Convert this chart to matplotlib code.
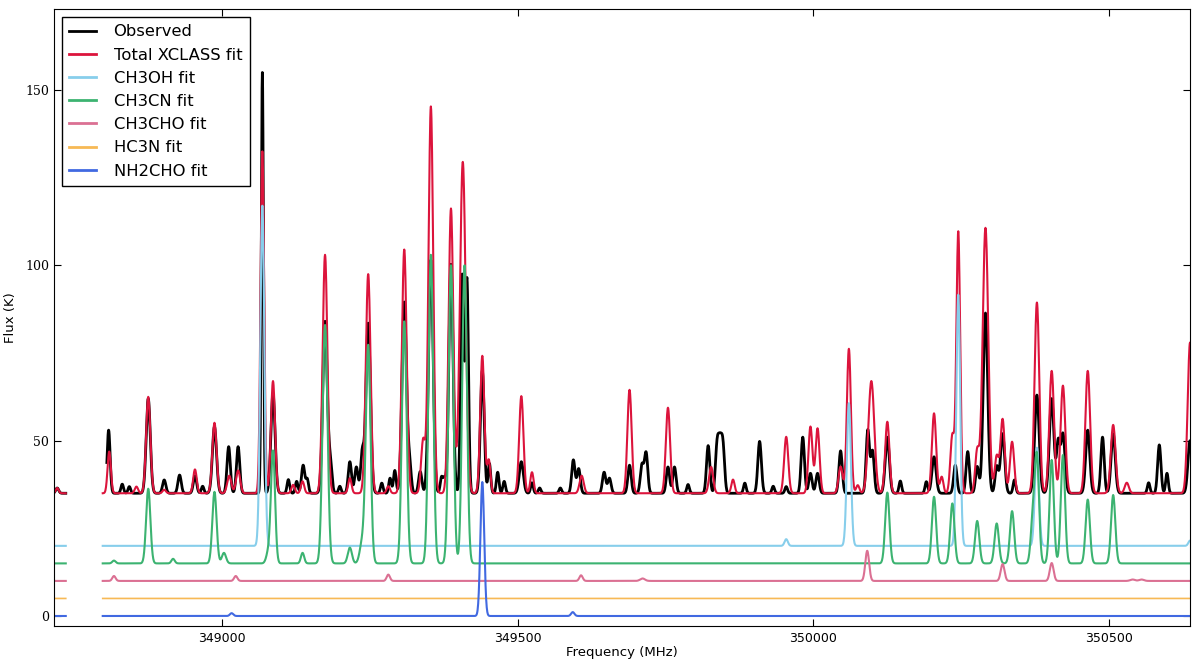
import matplotlib
matplotlib.use('Agg')
import matplotlib.pyplot as plt
import numpy as np

# frequency coverage (MHz): two chunks with a gap between them
seg_1 = (348715, 348736)
seg_2 = (348798, 350641)
fit_start_2 = 348798
obs_start_2 = 348805

# baselines (K) of each trace as offset in the plot
base_obs = 35
base_total = 35
base_ch3oh = 20
base_ch3cn = 15
base_ch3cho = 10
base_hc3n = 5
base_nh2cho = 0

# line lists: centre (MHz), peak above baseline (K), sigma (MHz)
obs_freq = [348721, 348808, 348831, 348843, 348875, 348902, 348928, 348954, 348967, 348987,
            349011, 349027, 349068, 349086, 349112, 349126, 349137, 349144, 349174, 349183,
            349199, 349216, 349227, 349237, 349247, 349270, 349284, 349292, 349308, 349317,
            349335, 349353, 349371, 349376, 349387, 349406, 349414, 349440, 349452, 349466,
            349477, 349506, 349524, 349537, 349572, 349594, 349603, 349646, 349655, 349689,
            349710, 349717, 349754, 349765, 349788, 349822, 349837, 349842, 349847, 349884,
            349909, 349932, 349954, 349982, 349995, 350007, 350046, 350092, 350100, 350125,
            350147, 350191, 350204, 350240, 350261, 350277, 350291, 350310, 350320, 350340,
            350378, 350403, 350414, 350422, 350464, 350489, 350507, 350567, 350585, 350598,
            350637]
obs_peak = [1.5, 18.0, 2.6, 1.9, 27.0, 3.8, 5.2, 5.0, 2.0, 19.0,
            13.3, 13.3, 120.0, 28.5, 3.9, 3.4, 8.0, 3.9, 49.0, 8.0,
            2.0, 9.0, 7.5, 11.5, 48.5, 2.9, 4.3, 6.5, 54.5, 8.0,
            6.2, 66.5, 4.5, 4.0, 65.3, 62.0, 61.0, 35.0, 8.5, 6.0,
            3.4, 9.0, 3.0, 1.5, 1.5, 9.5, 7.0, 6.0, 4.3, 8.0,
            8.0, 11.5, 7.5, 7.5, 2.5, 13.6, 13.0, 12.0, 13.0, 2.9,
            14.8, 2.0, 1.9, 16.0, 5.7, 5.7, 12.1, 18.0, 12.0, 16.0,
            3.5, 3.3, 10.4, 8.0, 11.9, 7.6, 51.4, 7.6, 17.0, 3.8,
            28.0, 27.0, 14.0, 17.0, 18.0, 16.0, 17.0, 3.0, 13.8, 5.7,
            15.0]
obs_sigma = [2.5, 2.5, 2.2, 2.2, 3.5, 2.8, 2.8, 2.8, 2.2, 3.5,
             2.8, 2.8, 1.8, 3.5, 2.2, 2.2, 2.8, 2.2, 3.8, 2.8,
             2.2, 2.8, 2.8, 2.8, 3.8, 2.2, 2.2, 2.2, 3.8, 2.8,
             2.8, 3.8, 2.2, 2.2, 3.5, 2.6, 2.6, 3.2, 2.2, 2.2,
             2.2, 3.5, 2.2, 2.2, 2.2, 2.8, 2.8, 2.8, 2.8, 2.8,
             2.8, 2.8, 2.8, 2.8, 2.2, 2.8, 2.8, 2.8, 2.8, 2.2,
             3.0, 2.2, 2.2, 2.8, 2.8, 2.8, 2.8, 2.8, 2.8, 3.5,
             2.2, 2.2, 3.5, 2.8, 2.8, 2.8, 3.8, 2.8, 3.5, 2.2,
             3.8, 3.8, 2.8, 3.5, 3.5, 2.8, 3.5, 2.2, 2.8, 2.2,
             3.5]

total_freq = [348721, 348809, 348855, 348875, 348902, 348954, 348987, 349012, 349027, 349068,
              349086, 349120, 349136, 349174, 349216, 349247, 349281, 349308, 349340, 349353,
              349387, 349407, 349440, 349451, 349506, 349524, 349608, 349689, 349754, 349827,
              349864, 349954, 349995, 350007, 350046, 350060, 350075, 350098, 350125, 350204,
              350217, 350235, 350245, 350277, 350291, 350310, 350320, 350336, 350378, 350403,
              350422, 350464, 350507, 350530, 350637]
total_peak = [1.5, 11.9, 1.9, 27.5, 1.0, 6.8, 20.1, 5.0, 6.5, 97.5,
              32.0, 2.4, 3.4, 68.0, 4.3, 62.5, 2.0, 69.5, 15.2, 110.3,
              81.2, 94.5, 39.2, 9.4, 27.7, 6.0, 5.0, 29.5, 24.4, 7.5,
              3.9, 16.1, 19.0, 18.5, 7.6, 41.2, 2.3, 32.0, 20.4, 22.8,
              4.7, 16.5, 74.5, 12.0, 75.7, 10.5, 21.1, 14.7, 54.4, 34.9,
              30.7, 34.9, 19.5, 3.0, 43.0]
total_sigma = [2.5, 2.8, 2.8, 3.6, 2.8, 3.0, 3.6, 3.5, 3.5, 3.0,
               3.5, 2.8, 2.8, 4.0, 2.8, 4.0, 2.8, 4.0, 3.5, 4.0,
               4.0, 4.8, 3.5, 2.8, 3.6, 2.8, 3.5, 3.6, 3.6, 3.5,
               2.8, 3.5, 3.4, 3.4, 3.5, 3.4, 2.8, 5.0, 3.6, 3.6,
               2.8, 3.4, 3.2, 3.4, 4.8, 3.4, 3.6, 3.6, 4.0, 4.0,
               4.0, 4.0, 4.0, 3.5, 4.0]

ch3oh_freq = [349068, 349954, 350060, 350245, 350378, 350637]
ch3oh_peak = [97.0, 1.9, 40.7, 71.6, 28.0, 1.5]
ch3oh_sigma = [3.4, 2.8, 3.4, 3.2, 3.4, 2.8]

ch3cn_freq = [348817, 348875, 348917, 348987, 349003, 349078, 349086, 349136, 349174, 349216,
              349237, 349247, 349308, 349353, 349387, 349410, 350125, 350204, 350235, 350277,
              350310, 350336, 350371, 350378, 350403, 350422, 350464, 350507]
ch3cn_peak = [0.8, 21.3, 1.3, 20.4, 3.0, 3.0, 32.0, 3.0, 68.0, 4.5,
              6.0, 62.0, 69.0, 88.0, 85.0, 85.0, 20.2, 19.0, 17.1, 12.1,
              11.4, 14.9, 12.0, 30.0, 29.5, 30.9, 18.2, 19.5]
ch3cn_sigma = [2.8, 3.6, 2.8, 3.6, 3.5, 3.5, 3.5, 2.8, 4.2, 3.5,
               4.2, 4.0, 4.0, 4.0, 4.0, 4.0, 3.6, 3.6, 3.6, 3.6,
               3.6, 3.6, 3.5, 3.6, 3.6, 3.6, 3.6, 3.6]

ch3cho_freq = [348817, 349023, 349281, 349607, 349711, 350091, 350320, 350403, 350540, 350555]
ch3cho_peak = [1.4, 1.4, 1.8, 1.6, 0.7, 8.6, 4.8, 5.1, 0.4, 0.4]
ch3cho_sigma = [2.8, 2.8, 2.8, 2.8, 4.0, 3.2, 3.2, 3.2, 4.0, 4.0]

hc3n_freq = []
hc3n_peak = []
hc3n_sigma = []

nh2cho_freq = [349016, 349440, 349593]
nh2cho_peak = [0.8, 38.2, 1.1]
nh2cho_sigma = [2.8, 3.2, 2.8]


def channels(start_2):
    a = np.arange(seg_1[0], seg_1[1], 0.5)
    b = np.arange(start_2, seg_2[1], 0.5)
    return np.concatenate([a, [np.nan], b])


def spectrum(freq, base, centres, peaks, sigmas):
    y = np.full(freq.shape, float(base))
    for c, p, s in zip(centres, peaks, sigmas):
        y += p * np.exp(-0.5 * ((freq - c) / s) ** 2)
    return y


f_fit = channels(fit_start_2)
f_obs = channels(obs_start_2)

fig = plt.figure(figsize=(12, 6.68), dpi=100)
ax = fig.add_axes([0.045, 0.0629, 0.9467, 0.9236])

ax.plot(f_obs, spectrum(f_obs, base_obs, obs_freq, obs_peak, obs_sigma),
        color='black', lw=2, label='Observed')
ax.plot(f_fit, spectrum(f_fit, base_total, total_freq, total_peak, total_sigma),
        color='crimson', lw=1.5, label='Total XCLASS fit')
ax.plot(f_fit, spectrum(f_fit, base_ch3oh, ch3oh_freq, ch3oh_peak, ch3oh_sigma),
        color='skyblue', lw=1.5, label='CH3OH fit')
ax.plot(f_fit, spectrum(f_fit, base_ch3cn, ch3cn_freq, ch3cn_peak, ch3cn_sigma),
        color='mediumseagreen', lw=1.5, label='CH3CN fit')
ax.plot(f_fit, spectrum(f_fit, base_ch3cho, ch3cho_freq, ch3cho_peak, ch3cho_sigma),
        color='palevioletred', lw=1.5, label='CH3CHO fit')
ax.plot(f_fit, spectrum(f_fit, base_hc3n, hc3n_freq, hc3n_peak, hc3n_sigma),
        color='#f7b955', lw=1.2, label='HC3N fit')
ax.plot(f_fit, spectrum(f_fit, base_nh2cho, nh2cho_freq, nh2cho_peak, nh2cho_sigma),
        color='royalblue', lw=1.5, label='NH2CHO fit')

ax.set_xlim(348715.6, 350637)
ax.set_ylim(-2.85, 173.1)
ax.set_xticks([349000, 349500, 350000, 350500])
ax.set_yticks([0, 50, 100, 150])
ax.tick_params(direction='in', top=True, right=True, length=5, width=0.8)
ax.tick_params(axis='x', labelsize=9, pad=4)
ax.tick_params(axis='y', labelsize=9)
for lab in ax.get_yticklabels():
    lab.set_family('DejaVu Serif')
ax.set_xlabel('Frequency (MHz)', fontsize=9.5, labelpad=1)
ax.set_ylabel('Flux (K)', fontsize=9.5, labelpad=6)

leg = ax.legend(loc='upper left', fontsize=11.8, handlelength=1.6, handletextpad=1.1,
                labelspacing=0.5, borderpad=0.45, borderaxespad=0.0, fancybox=False,
                framealpha=1, bbox_to_anchor=(0.007, 0.987))
leg.get_frame().set_edgecolor('black')
leg.get_frame().set_linewidth(1)
for line in leg.get_lines():
    line.set_linewidth(2)

fig.savefig('out.png', dpi=100, facecolor='white')
